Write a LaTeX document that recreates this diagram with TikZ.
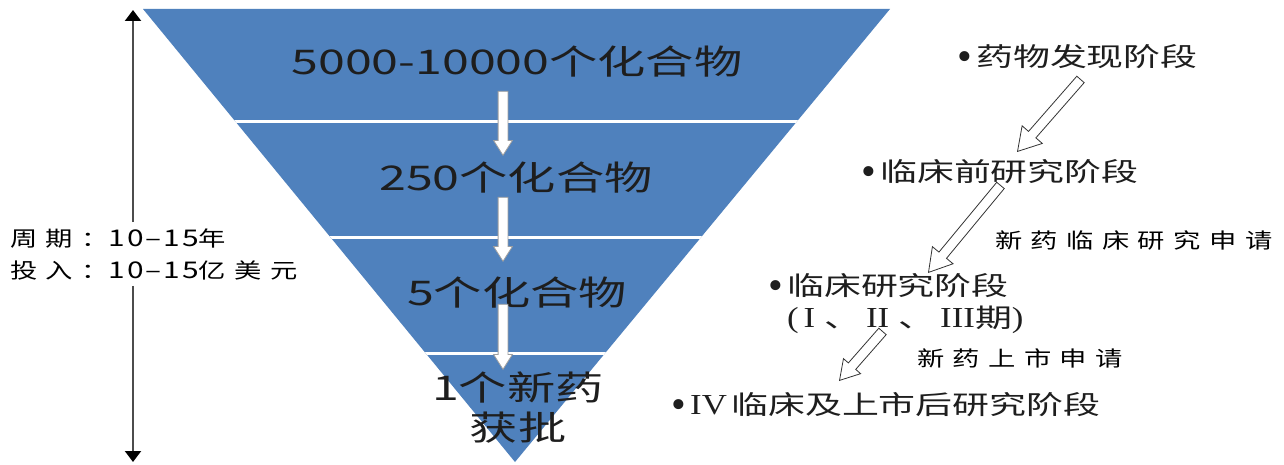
\documentclass[tikz,border=0pt]{standalone}
\usepackage{fontspec}
\usetikzlibrary{arrows.meta,shapes.arrows,calc}
\newfontfamily\cjk[FakeStretch=1.42]{Noto Sans CJK SC}
\newfontfamily\cjkls[FakeStretch=1.3,LetterSpace=40]{Noto Sans CJK SC}
\newfontfamily\cjknum[FakeStretch=1.3,LetterSpace=8]{Noto Sans CJK SC}
\newfontfamily\rmst[FakeStretch=1.2]{Liberation Serif}
\newfontfamily\rmn{Liberation Serif}
\definecolor{funnel}{RGB}{79,129,189}
\definecolor{txt}{RGB}{30,30,30}
\newcommand\bul{\llap{\raisebox{-4pt}{\fontsize{42}{42}\selectfont\rmn •}\hspace{4pt}}}
\newcommand\rn[1]{{\fontsize{29}{32}\selectfont\rmst #1}}
\newcommand\num[1]{{\fontsize{23}{32}\selectfont\cjknum #1}}
\newcommand\hollowarr[3]{\path let \p1=($(#2)-(#1)$), \n1={atan2(\y1,\x1)}, \n2={veclen(\x1,\y1)} in node[#3, rotate=\n1, minimum height=\n2, anchor=tip] at (#2) {};}
\begin{document}
\begin{tikzpicture}[x=1pt,y=-1pt,
  funnelText/.style={text=txt, inner sep=0pt, font=\fontsize{34}{40}\selectfont\cjk},
  stage/.style={text=txt, inner sep=0pt, anchor=west, align=left, font=\fontsize{26}{32}\selectfont\cjk},
  applab/.style={text=black, inner sep=0pt, anchor=west, align=left, font=\fontsize{21}{32}\selectfont\cjkls},
  wArrow/.style={single arrow, draw=gray!75, fill=white, line width=0.8pt, inner xsep=0pt, inner ysep=4.5pt, single arrow head extend=4.5pt, single arrow tip angle=65},
  hArrow/.style={single arrow, draw=black!80, fill=white, line width=0.8pt, inner xsep=0pt, inner ysep=4.5pt, single arrow head extend=8.5pt, single arrow tip angle=62},
  hArrowS/.style={hArrow, single arrow head extend=6.5pt},
  dimline/.style={draw=black!70, line width=2pt, -{Triangle[length=11pt,width=16pt,color=black]}}
]
\useasboundingbox (0,0) rectangle (1284,465);
\clip (0,0) rectangle (1284,465);
\fill[white] (0,0) rectangle (1284,465);
% funnel
\coordinate (TL) at (143,9);
\coordinate (TR) at (890,9);
\coordinate (AP) at (515,462);
\fill[funnel] (TL) -- (TR) -- (AP) -- cycle;
\begin{scope}
  \clip (TL) -- (TR) -- (AP) -- cycle;
  \foreach \yy in {122,237,353} \draw[white, line width=3pt] (100,\yy) -- (950,\yy);
\end{scope}
% funnel labels
\node[funnelText] (s1) at (517,62) {5000-10000个化合物};
\node[funnelText] (s2) at (516,178) {250个化合物};
\node[funnelText] (s3) at (517,293) {5个化合物};
\node[funnelText, align=center] (s4) at (518,408) {1个新药\\获批};
% white arrows
\coordinate (w1a) at (503,92);  \coordinate (w1b) at (503,156);
\coordinate (w2a) at (503,198); \coordinate (w2b) at (503,262);
\coordinate (w3a) at (503,305); \coordinate (w3b) at (503,370);
\hollowarr{w1a}{w1b}{wArrow}
\hollowarr{w2a}{w2b}{wArrow}
\hollowarr{w3a}{w3b}{wArrow}
% left cycle text and dimension arrow
\node[applab, inner ysep=6pt] (cyc) at (10,254) {周期：\num{10–15}年\\投入：\num{10–15}亿美元};
\coordinate (vt) at (133,10);
\coordinate (vb) at (133,462);
\draw[dimline] (cyc.north -| vt) -- (vt);
\draw[dimline] (cyc.south -| vt) -- (vb);
% stages
\node[stage] (p1) at (976,58) {\bul 药物发现阶段};
\node[stage] (p2) at (880,172) {\bul 临床前研究阶段};
\node[stage] (p3) at (787,304) {\bul 临床研究阶段\\\rn{(\,I\,}\,、\rn{\,II\,}\,、\rn{\,III}期\rn{)}};
\node[stage] (p4) at (690,405) {\bul\rn{IV}\,临床及上市后研究阶段};
% application labels
\node[applab] (q1) at (995,240) {新药临床研究申请};
\node[applab] (q2) at (917,358) {新药上市申请};
% hollow arrows between stages
\coordinate (h1a) at (1080,80);  \coordinate (h1b) at (1017,152);
\coordinate (h2a) at (1000,186); \coordinate (h2b) at (928,273);
\coordinate (h3a) at (882,332);  \coordinate (h3b) at (839,381);
\hollowarr{h1a}{h1b}{hArrow}
\hollowarr{h2a}{h2b}{hArrow}
\hollowarr{h3a}{h3b}{hArrowS}
\end{tikzpicture}
\end{document}
